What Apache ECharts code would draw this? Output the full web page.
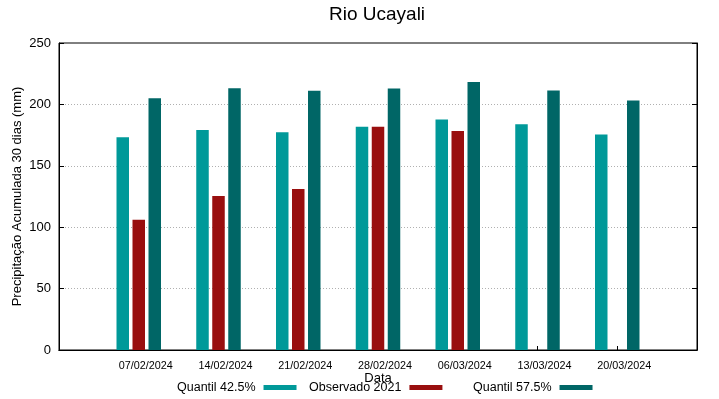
<!DOCTYPE html>
<html>
<head>
<meta charset="utf-8">
<script src="https://cdn.jsdelivr.net/npm/echarts@6/dist/echarts.min.js"></script>
<style>html,body{margin:0;padding:0;background:#fff}#c{width:719px;height:399px}</style>
</head>
<body>
<div id="c"></div>
<script>
var categories = ['', '07/02/2024', '14/02/2024', '21/02/2024', '28/02/2024', '06/03/2024', '13/03/2024', '20/03/2024', ''];
var q425 = ['-', 173.3, 179.1, 177.3, 181.7, 187.7, 183.9, 175.4, '-'];
var obs2021 = ['-', 106.0, 125.5, 131.2, 181.7, 178.3, '-', '-', '-'];
var q575 = ['-', 205.1, 213.2, 211.1, 213.0, 218.2, 211.3, 203.2, '-'];
var yTicks = [0, 50, 100, 150, 200, 250];

var FONT = 'Liberation Sans, Arial, sans-serif';
var chart = echarts.init(document.getElementById('c'), null, {renderer: 'canvas'});
function legendAt(name, left) {
  return {
    data: [name], left: left, top: 381, padding: 0, align: 'right',
    itemWidth: 33, itemHeight: 5, icon: 'rect', selectedMode: false,
    textStyle: {fontFamily: FONT, fontSize: 12.5, color: '#000', padding: [0, 3, 0, 0]}
  };
}
chart.setOption({
  animation: false,
  backgroundColor: '#fff',
  title: {
    text: 'Rio Ucayali', left: 329, top: 5, padding: 0,
    textStyle: {fontFamily: FONT, fontSize: 19, fontWeight: 'normal', color: '#000'}
  },
  legend: [legendAt('Quantil 42.5%', 177), legendAt('Observado 2021', 309), legendAt('Quantil 57.5%', 473)],
  grid: {left: 59, right: 22, top: 43, bottom: 49, show: true, borderColor: '#000', borderWidth: 1, backgroundColor: 'transparent', containLabel: false, outerBoundsMode: 'none'},
  xAxis: [{
    type: 'category', data: categories, boundaryGap: false,
    name: 'Data', nameLocation: 'middle', nameGap: 22, nameMoveOverlap: false,
    nameTextStyle: {fontFamily: FONT, fontSize: 13, color: '#000'},
    axisLine: {lineStyle: {color: '#000', width: 1}},
    axisTick: {inside: true, length: 4, lineStyle: {color: '#000'}},
    axisLabel: {fontFamily: FONT, fontSize: 10.8, color: '#000', margin: 11, padding: [0, 0, 0, 14], interval: 0},
    splitLine: {show: false}
  }, {
    type: 'category', data: categories, boundaryGap: false, position: 'top', z: 5,
    axisLine: {show: true, lineStyle: {color: '#000', width: 1}},
    axisTick: {show: false}, axisLabel: {show: false}, splitLine: {show: false}
  }],
  yAxis: [{
    type: 'value', min: 0, max: 250, interval: 50,
    name: 'Precipitação Acumulada 30 dias (mm)', nameLocation: 'middle', nameGap: 35, nameMoveOverlap: false,
    nameTextStyle: {fontFamily: FONT, fontSize: 13, color: '#000'},
    axisLine: {show: true, lineStyle: {color: '#000', width: 1}},
    axisTick: {show: true, inside: true, length: 5, lineStyle: {color: '#000'}},
    axisLabel: {fontFamily: FONT, fontSize: 13, color: '#000', margin: 8,
      formatter: function (v) { return yTicks.indexOf(v) >= 0 ? String(v) : ''; }},
    splitLine: {show: true, showMinLine: false, showMaxLine: false, lineStyle: {color: '#b0b0b0', type: [1, 2], width: 1}}
  }, {
    type: 'value', min: 0, max: 250, interval: 50, position: 'right', z: 5,
    axisLine: {show: true, lineStyle: {color: '#000', width: 1}},
    axisTick: {show: true, inside: true, length: 5, lineStyle: {color: '#000'}},
    axisLabel: {show: false}, splitLine: {show: false}
  }],
  series: [
    {name: 'Quantil 42.5%', type: 'bar', data: q425, barWidth: 12.5, barGap: '28%', itemStyle: {color: '#009999'}},
    {name: 'Observado 2021', type: 'bar', data: obs2021, barWidth: 12.5, barGap: '28%', itemStyle: {color: '#990f0f'}},
    {name: 'Quantil 57.5%', type: 'bar', data: q575, barWidth: 12.5, barGap: '28%', itemStyle: {color: '#006666'}}
  ]
});
</script>
</body>
</html>
